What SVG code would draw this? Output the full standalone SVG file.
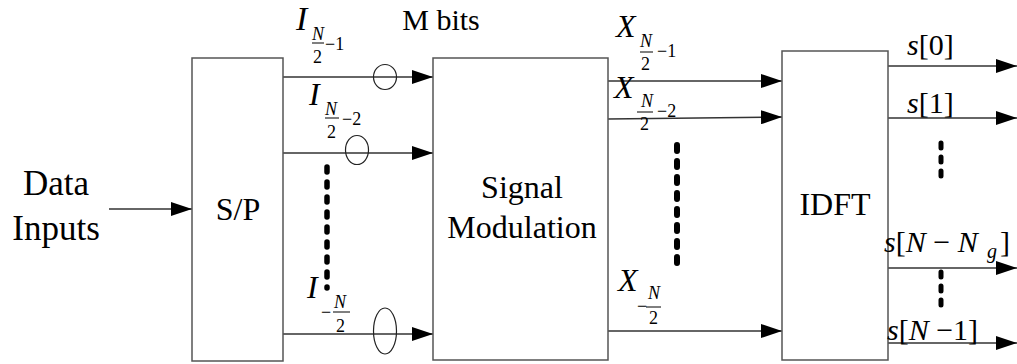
<svg xmlns="http://www.w3.org/2000/svg" width="1017" height="364" viewBox="0 0 1017 364">
<defs>
<marker id="ah" markerWidth="22" markerHeight="14" refX="21" refY="7" orient="auto" markerUnits="userSpaceOnUse">
<path d="M0,0 L21,7 L0,14 Z" fill="#000"/>
</marker>
<style>
.box{fill:#fff;stroke:#555;stroke-width:1.5}
.ar{stroke:#333;stroke-width:1.4;fill:none;marker-end:url(#ah)}
.el{fill:none;stroke:#222;stroke-width:1.2}
.dots{stroke:#000;stroke-linecap:round;fill:none}
.bar{stroke:#000;stroke-width:1}
text{fill:#000;font-family:'Liberation Serif','DejaVu Serif','Times New Roman',serif}
.lbl{font-size:32px}
.it{font-style:italic}
.sub{font-size:18px}
.out{font-size:30px}
</style>
</defs>
<g id="connectors">
<line class="ar" x1="109" y1="209" x2="192" y2="209"/>
<line class="ar" x1="283" y1="77" x2="433" y2="77"/>
<line class="ar" x1="283" y1="153" x2="433" y2="153"/>
<line class="ar" x1="283" y1="334" x2="433" y2="334"/>
<line class="ar" x1="608" y1="81" x2="782" y2="81"/>
<line class="ar" x1="608" y1="119" x2="782" y2="117"/>
<line class="ar" x1="608" y1="331" x2="782" y2="331"/>
<line class="ar" x1="888" y1="66" x2="1017" y2="66"/>
<line class="ar" x1="888" y1="118" x2="1017" y2="118"/>
<line class="ar" x1="888" y1="268" x2="1017" y2="268"/>
<line class="ar" x1="888" y1="343" x2="1017" y2="343"/>
<ellipse class="el" cx="385" cy="77" rx="11.5" ry="12.5"/>
<ellipse class="el" cx="357" cy="150" rx="11.5" ry="14.5"/>
<ellipse class="el" cx="385" cy="331" rx="11.5" ry="23"/>
<line class="dots" x1="327" y1="167" x2="327" y2="288" stroke-width="5.5" stroke-dasharray="5 10"/>
<line class="dots" x1="677" y1="145" x2="677" y2="266" stroke-width="6" stroke-dasharray="6 10"/>
<line class="dots" x1="941" y1="143" x2="941" y2="182" stroke-width="5" stroke-dasharray="5 9"/>
<line class="dots" x1="941" y1="272" x2="941" y2="307" stroke-width="5" stroke-dasharray="5 9"/>
</g>
<g id="input-label">
<text x="56" y="195" font-size="35" text-anchor="middle">Data</text>
<text x="56" y="240" font-size="35" text-anchor="middle">Inputs</text>
</g>
<g id="sp">
<rect class="box" x="192" y="58" width="91" height="303"/>
<text class="lbl" x="238" y="220" text-anchor="middle">S/P</text>
</g>
<g id="modulation">
<rect class="box" x="433" y="58" width="175" height="302"/>
<text class="lbl" x="522" y="198" text-anchor="middle">Signal</text>
<text class="lbl" x="522" y="238" text-anchor="middle">Modulation</text>
</g>
<g id="idft">
<rect class="box" x="782" y="51" width="106" height="309"/>
<text class="lbl" x="835" y="215" text-anchor="middle">IDFT</text>
</g>
<g id="mbits">
<text x="441" y="30" font-size="30" text-anchor="middle">M bits</text>
</g>
<g id="labels-I">
<text class="it" x="296" y="30" font-size="34">I</text>
<text class="it sub" x="312" y="40">N</text>
<line class="bar" x1="312" y1="43" x2="324" y2="43"/>
<text class="sub" x="313" y="63">2</text>
<text class="sub" x="325" y="50">−1</text>

<text class="it lbl" x="309" y="105">I</text>
<text class="it sub" x="325" y="115">N</text>
<line class="bar" x1="325" y1="118" x2="339" y2="118"/>
<text class="sub" x="327" y="138">2</text>
<text class="sub" x="342" y="125">−2</text>

<text class="it lbl" x="307" y="298">I</text>
<text class="sub" x="321" y="318">−</text>
<text class="it sub" x="334" y="308">N</text>
<line class="bar" x1="333" y1="312" x2="350" y2="312"/>
<text class="sub" x="336" y="332">2</text>
</g>
<g id="labels-X">
<text class="it lbl" x="616" y="37">X</text>
<text class="it sub" x="640" y="47">N</text>
<line class="bar" x1="640" y1="52" x2="653" y2="52"/>
<text class="sub" x="641" y="70">2</text>
<text class="sub" x="657" y="57">−1</text>

<text class="it lbl" x="614" y="98">X</text>
<text class="it sub" x="641" y="107">N</text>
<line class="bar" x1="637" y1="112" x2="653" y2="112"/>
<text class="sub" x="640" y="130">2</text>
<text class="sub" x="657" y="117">−2</text>

<text class="it lbl" x="618" y="291">X</text>
<text class="sub" x="637" y="312">−</text>
<text class="it sub" x="648" y="299">N</text>
<line class="bar" x1="646" y1="307" x2="661" y2="307"/>
<text class="sub" x="649" y="324">2</text>
</g>
<g id="labels-s">
<text class="out" x="907" y="55"><tspan class="it">s</tspan>[0]</text>
<text class="out" x="907" y="113"><tspan class="it">s</tspan>[1]</text>
<text class="out" x="884" y="252"><tspan class="it">s</tspan>[<tspan class="it">N</tspan> − <tspan class="it">N</tspan></text>
<text class="it" x="987" y="258" font-size="20">g</text>
<text class="out" x="1000" y="252">]</text>
<text class="out" x="887" y="340"><tspan class="it">s</tspan>[<tspan class="it">N</tspan> −1]</text>
</g>
</svg>
